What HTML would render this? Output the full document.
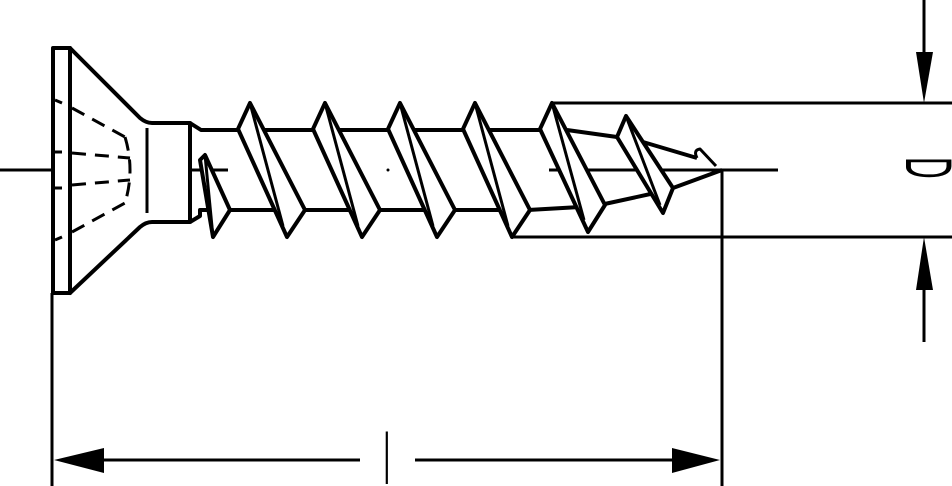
<!DOCTYPE html>
<html><head><meta charset="utf-8"><style>html,body{margin:0;padding:0;background:#fff}svg{display:block}</style></head>
<body>
<svg width="952" height="486" viewBox="0 0 952 486" xmlns="http://www.w3.org/2000/svg">
<g stroke="#000" stroke-width="3" fill="none">
  <line x1="0" y1="170" x2="228" y2="170"/>
  <line x1="549" y1="170" x2="778" y2="170"/>
  <line x1="52" y1="293" x2="52" y2="486"/>
  <line x1="722" y1="170" x2="722" y2="486"/>
  <line x1="552" y1="103" x2="952" y2="103"/>
  <line x1="513" y1="237" x2="952" y2="237"/>
  <line x1="924" y1="0" x2="924" y2="60"/>
  <line x1="924" y1="280" x2="924" y2="342"/>
  <line x1="95" y1="460" x2="360" y2="460"/>
  <line x1="415" y1="460" x2="680" y2="460"/>
</g>
<g fill="#000">
  <polygon points="916,52 933,52 924,103"/>
  <polygon points="916,290 933,290 924,237"/>
  <polygon points="54,460 104,448 104,473"/>
  <polygon points="720,460 672,448 672,473"/>
  <circle cx="388" cy="170" r="1.5"/>
</g>
<g stroke="#000" stroke-width="4" fill="#fff" stroke-linejoin="round">
  <path d="M70,48 L140,118 Q146,123 152,123 L190,123 L190,222 L152,222 Q146,222 140,227 L70,293 Z"/>
  <rect x="53" y="48" width="17" height="245"/>
  <line x1="147" y1="128" x2="147" y2="213" stroke-width="3"/>
  <path d="M190,123 L201,130 L560,130" fill="none"/>
  <path d="M190,222 L200,216 L200,210 L528,210" fill="none"/>
  <polygon points="200,160 205,155 230,210 213,237"/>
  <line x1="205" y1="155" x2="213" y2="237" stroke-width="3"/>
  <g>
    <polygon points="238,129 250,103 305,210 287,237"/>
    <line x1="250" y1="103" x2="283" y2="226" stroke-width="3"/>
    <polygon points="313,129 325,103 380,210 362,237"/>
    <line x1="325" y1="103" x2="358" y2="226" stroke-width="3"/>
    <polygon points="388,129 400,103 455,210 437,237"/>
    <line x1="400" y1="103" x2="433" y2="226" stroke-width="3"/>
    <polygon points="463,129 475,103 530,210 512,237"/>
    <line x1="475" y1="103" x2="508" y2="226" stroke-width="3"/>
  </g>
  <path d="M567,130 L617,137" fill="none"/>
  <path d="M528,210 L580,207" fill="none"/>
  <path d="M600,205 L655,193" fill="none"/>
  <path d="M643,142 L697,158 M673,188 L722,170" fill="none"/>
  <path d="M697,158 Q693,150 700,149 L716,166" fill="none" stroke-width="3"/>
  <polygon points="540,129 552,103 605,205 588,232"/>
  <line x1="552" y1="103" x2="584" y2="220" stroke-width="3"/>
  <polygon points="617,137 626,116 673,188 663,213"/>
  <line x1="626" y1="116" x2="660" y2="205" stroke-width="3"/>
</g>
<g stroke="#000" stroke-width="3" fill="none" stroke-dasharray="14,9">
  <path d="M72,108 L125,137"/>
  <path d="M72,153 L130,158"/>
  <path d="M72,185 L130,180"/>
  <path d="M72,232 L125,203"/>
  <path d="M125,137 Q135,170 125,203"/>
</g>
<g stroke="#000" stroke-width="3">
  <line x1="55" y1="100" x2="62" y2="103"/>
  <line x1="55" y1="152" x2="62" y2="152"/>
  <line x1="55" y1="188" x2="62" y2="188"/>
  <line x1="55" y1="240" x2="62" y2="237"/>
</g>
<text transform="translate(906,157) rotate(90) scale(1,2.2)" font-family="Liberation Sans, sans-serif" font-size="30" fill="#000">D</text>
<text transform="translate(384,484) scale(0.35,1)" font-family="Liberation Sans, sans-serif" font-size="72" fill="#000">l</text>
</svg>
</body></html>
